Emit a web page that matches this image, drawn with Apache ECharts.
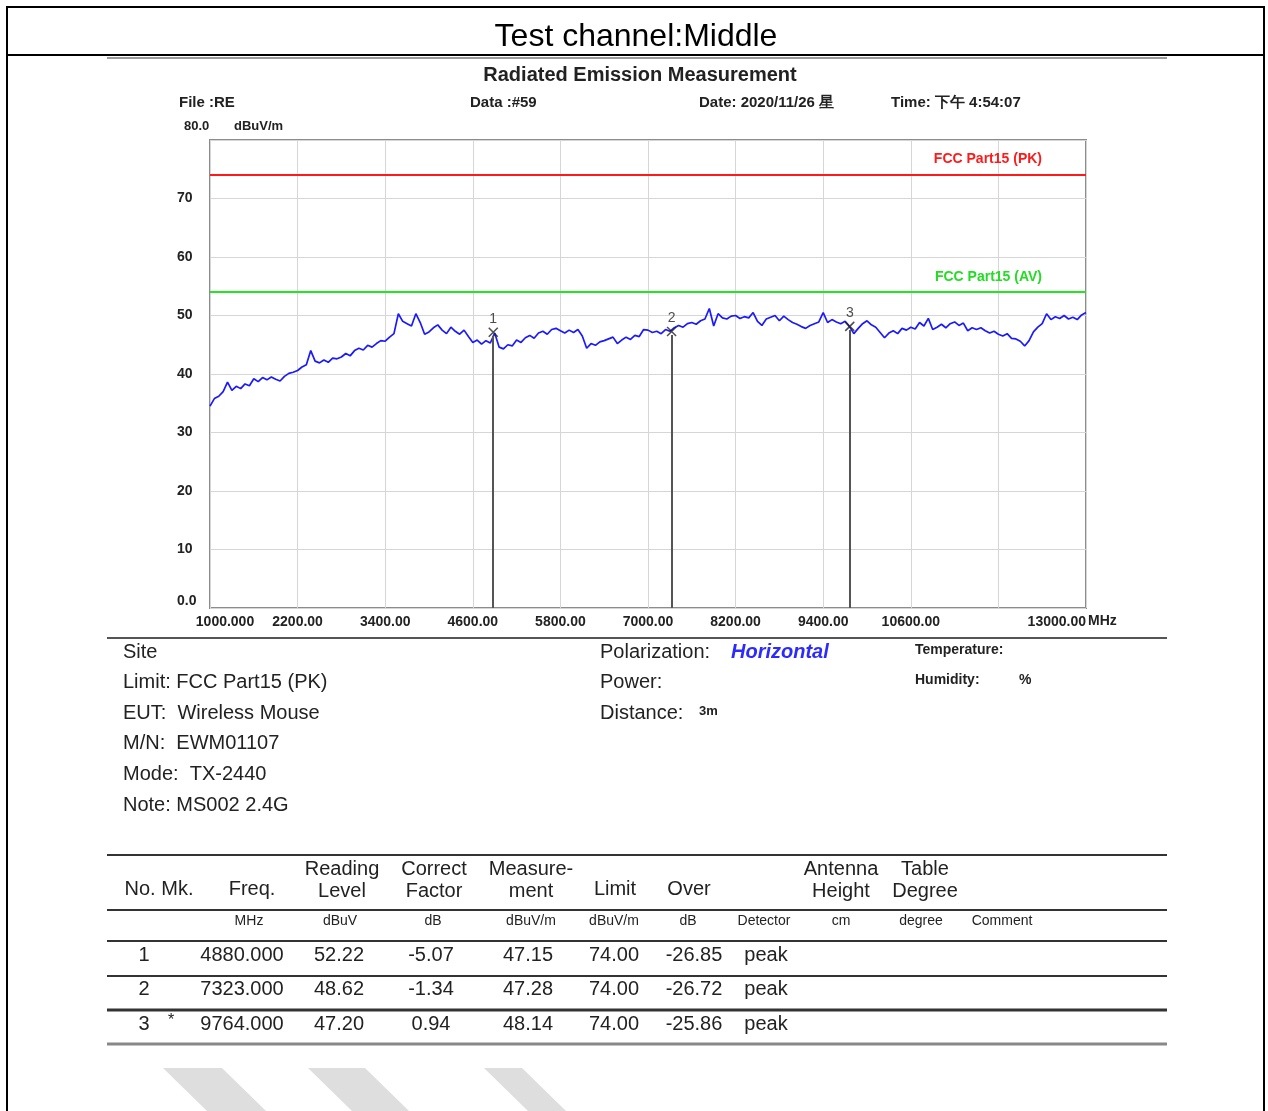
<!DOCTYPE html>
<html>
<head>
<meta charset="utf-8">
<script src="https://cdn.jsdelivr.net/npm/echarts@6/dist/echarts.min.js"></script>
<style>
html, body { margin: 0; padding: 0; background: #fff; }
#main { width: 1268px; height: 1111px; }
</style>
</head>
<body>
<div id="main"></div>
<script>
// sweep settings of the receiver
const sweepStart = 1000;
const sweepStop = 13000;

// blue trace, dBuV/m (201 sweep points)
const traceLevels = [
  34.5, 35.8, 36.2, 37.0, 38.6, 37.2, 37.9, 37.5, 38.3, 38.0,
  39.2, 38.7, 39.4, 39.0, 39.5, 39.1, 38.8, 39.6, 40.1, 40.3,
  40.6, 41.2, 41.6, 44.0, 42.2, 41.9, 42.4, 42.0, 42.7, 42.6,
  42.9, 43.5, 43.1, 44.0, 44.4, 44.1, 44.9, 44.6, 45.2, 45.7,
  45.6, 46.3, 46.9, 50.3, 49.0, 48.6, 48.2, 50.3, 48.8, 46.8,
  47.2, 47.9, 48.4, 47.5, 46.9, 48.0, 47.3, 46.8, 47.5, 46.4,
  45.4, 45.8, 45.1, 45.7, 45.3, 47.0, 44.6, 44.3, 45.0, 44.8,
  45.8, 45.4, 46.2, 46.6, 46.1, 47.0, 47.3, 46.8, 47.6, 47.8,
  47.4, 47.0, 47.5, 47.1, 47.6, 46.5, 44.4, 45.2, 44.9, 45.5,
  45.7, 46.0, 46.3, 45.2, 45.8, 46.3, 45.9, 46.6, 46.4, 47.6,
  47.5, 47.1, 47.3, 46.9, 47.6, 47.3, 47.9, 48.3, 48.0, 48.6,
  48.8, 48.5, 49.1, 49.4, 51.2, 48.2, 50.3, 49.6, 49.4, 49.9,
  50.0, 49.5, 49.8, 49.6, 50.5, 49.0, 48.3, 49.4, 49.7, 50.0,
  49.1, 49.9, 49.3, 48.8, 48.5, 48.1, 47.8, 48.3, 48.6, 48.9,
  50.5, 48.8, 49.3, 48.9, 48.6, 49.0, 48.1, 46.9, 47.8, 48.6,
  49.1, 48.4, 48.0, 47.1, 46.2, 47.0, 47.4, 46.9, 47.8, 47.5,
  48.0, 47.7, 48.8, 48.2, 49.5, 47.6, 48.0, 48.5, 47.9, 48.6,
  48.9, 48.3, 48.7, 47.4, 47.9, 47.6, 47.9, 47.4, 47.0, 47.3,
  46.8, 46.5, 46.9, 46.1, 46.0, 45.6, 44.8, 45.7, 47.2, 48.0,
  48.6, 50.3, 49.3, 49.8, 49.5, 50.0, 49.4, 49.7, 49.3, 50.1,
  50.5
];

const limitPK = 74;
const limitAV = 54;
const limitNames = ['FCC Part15 (PK)', 'FCC Part15 (AV)'];

const xTickLabels = ['1000.000', '2200.00', '3400.00', '4600.00', '5800.00', '7000.00',
  '8200.00', '9400.00', '10600.00', '', '13000.00'];

// marker table
const markerNos = ['1', '2', '3'];
const markerFlags = ['', '', '*'];
const markerFreqs = ['4880.000', '7323.000', '9764.000'];
const readingLevels = ['52.22', '48.62', '47.20'];
const correctFactors = ['-5.07', '-1.34', '0.94'];
const measurements = ['47.15', '47.28', '48.14'];
const limitValues = ['74.00', '74.00', '74.00'];
const overValues = ['-26.85', '-26.72', '-25.86'];
const detectors = ['peak', 'peak', 'peak'];

// header / info texts
const headerTexts = ['File :RE', 'Data :#59', 'Date: 2020/11/26 星', 'Time: 下午 4:54:07'];
const infoLeft = ['Site', 'Limit: FCC Part15 (PK)', 'EUT:  Wireless Mouse', 'M/N:  EWM01107', 'Mode:  TX-2440', 'Note: MS002 2.4G'];
const infoMiddle = ['Polarization:', 'Power:', 'Distance:'];
const tableHeads = [['No. Mk.'], ['Freq.'], ['Reading', 'Level'], ['Correct', 'Factor'], ['Measure-', 'ment'],
  ['Limit'], ['Over'], ['Antenna', 'Height'], ['Table', 'Degree']];
const tableUnits = ['MHz', 'dBuV', 'dB', 'dBuV/m', 'dBuV/m', 'dB', 'Detector', 'cm', 'degree', 'Comment'];

const tracePoints = traceLevels.map((v, i) => [sweepStart + i * (sweepStop - sweepStart) / (traceLevels.length - 1), v]);

const FONT = '"Liberation Sans", Arial, sans-serif';

function txt(text, x, y, opt) {
  opt = opt || {};
  return {
    type: 'text', x: x, y: y, z: 10,
    style: {
      text: text,
      font: (opt.italic ? 'italic ' : '') + (opt.weight || 'normal') + ' ' + (opt.size || 18) + 'px ' + FONT,
      fill: opt.color || '#1a1a1a',
      align: opt.align || 'left', textAlign: opt.align || 'left',
      verticalAlign: 'middle', textVerticalAlign: 'middle',
      lineHeight: opt.lineHeight || 22
    }
  };
}
function hline(y, x1, x2, color, w) {
  return { type: 'line', z: 5, shape: { x1: x1, y1: y, x2: x2, y2: y }, style: { stroke: color, lineWidth: w } };
}

const graphics = [];
// page frame and title
graphics.push({ type: 'rect', z: 1, shape: { x: 7, y: 7, width: 1257, height: 1120 }, style: { fill: 'none', stroke: '#000', lineWidth: 2 } });
graphics.push(hline(55, 7, 1264, '#000', 2));
graphics.push(txt('Test channel:Middle', 636, 37, { size: 32, align: 'center', color: '#000' }));
graphics.push(hline(58, 107, 1167, '#9a9a9a', 2));
graphics.push(txt('Radiated Emission Measurement', 640, 75, { size: 20, weight: 'bold', align: 'center', color: '#222' }));
[179, 470, 699, 891].forEach((x, i) => graphics.push(txt(headerTexts[i], x, 103, { size: 15, weight: 'bold', color: '#222' })));
graphics.push(txt('80.0', 184, 126, { size: 13, weight: 'bold', color: '#222' }));
graphics.push(txt('dBuV/m', 234, 126, { size: 13, weight: 'bold', color: '#222' }));
graphics.push(txt('MHz', 1088, 621, { size: 14, weight: 'bold', color: '#222' }));

// info block
graphics.push(hline(638, 107, 1167, '#555', 2));
infoLeft.forEach((s, i) => graphics.push(txt(s, 123, 652 + i * 30.6, { size: 20, color: '#222' })));
infoMiddle.forEach((s, i) => graphics.push(txt(s, 600, 652 + i * 30.6, { size: 20, color: '#222' })));
graphics.push(txt('Horizontal', 731, 652, { size: 20, weight: 'bold', italic: true, color: '#2b2bff' }));
graphics.push(txt('3m', 699, 711, { size: 13, weight: 'bold', color: '#222' }));
graphics.push(txt('Temperature:', 915, 650, { size: 14, weight: 'bold', color: '#222' }));
graphics.push(txt('Humidity:', 915, 680, { size: 14, weight: 'bold', color: '#222' }));
graphics.push(txt('%', 1019, 680, { size: 14, weight: 'bold', color: '#222' }));

// table
graphics.push(hline(855, 107, 1167, '#333', 2));
graphics.push(hline(910, 107, 1167, '#333', 2));
graphics.push(hline(941, 107, 1167, '#333', 2));
graphics.push(hline(976, 107, 1167, '#333', 2));
graphics.push(hline(1010, 107, 1167, '#333', 3));
graphics.push(hline(1044, 107, 1167, '#888', 3));
const headX = [159, 252, 342, 434, 531, 615, 689, 841, 925];
tableHeads.forEach((h, i) => {
  const y = h.length === 2 ? 880 : 889;
  graphics.push(txt(h.join('\n'), headX[i], y, { size: 20, align: 'center', color: '#222' }));
});
const unitX = [249, 340, 433, 531, 614, 688, 764, 841, 921, 1002];
tableUnits.forEach((u, i) => graphics.push(txt(u, unitX[i], 921, { size: 14, align: 'center', color: '#222' })));
const rowY = [955, 989, 1024];
const colX = [242, 339, 431, 528, 614, 694, 766];
markerNos.forEach((no, r) => {
  graphics.push(txt(no, 144, rowY[r], { size: 20, align: 'center', color: '#222' }));
  graphics.push(txt(markerFlags[r], 171, rowY[r] - 3, { size: 16, align: 'center', color: '#222' }));
  [markerFreqs, readingLevels, correctFactors, measurements, limitValues, overValues, detectors].forEach((col, c) => {
    graphics.push(txt(col[r], colX[c], rowY[r], { size: 20, align: 'center', color: '#222' }));
  });
});

// faded watermark stripes at the bottom
[[[163, 1068], [222, 1068], [266, 1111], [207, 1111]],
 [[308, 1068], [365, 1068], [409, 1111], [352, 1111]],
 [[484, 1068], [522, 1068], [566, 1111], [528, 1111]]].forEach(pts => {
  graphics.push({ type: 'polygon', z: 0, shape: { points: pts }, style: { fill: '#dedede' } });
});

const chart = echarts.init(document.getElementById('main'), null, { renderer: 'canvas' });

const axisFont = { fontFamily: FONT, fontSize: 14, fontWeight: 'bold', color: '#222' };

chart.setOption({
  animation: false,
  backgroundColor: '#fff',
  graphic: graphics,
  grid: {
    left: 210, top: 140, width: 876, height: 468,
    show: true, borderColor: '#8c8c8c', borderWidth: 2, backgroundColor: 'transparent'
  },
  xAxis: {
    type: 'value', min: sweepStart, max: sweepStop, interval: 1200,
    axisLine: { show: false }, axisTick: { show: false },
    splitLine: { show: true, lineStyle: { color: '#d6d6d6', width: 1 } },
    axisLabel: Object.assign({
      margin: 7,
      showMinLabel: true, showMaxLabel: true,
      alignMaxLabel: 'right',
      formatter: v => {
        const s = xTickLabels[Math.round((v - sweepStart) / 1200)] || '';
        return v === sweepStart ? '{first|' + s + '}' : s;
      },
      rich: { first: { padding: [0, 0, 0, 30], fontFamily: FONT, fontSize: 14, fontWeight: 'bold', color: '#222' } }
    }, axisFont)
  },
  yAxis: {
    type: 'value', min: 0, max: 80, interval: 10,
    axisLine: { show: false }, axisTick: { show: false },
    splitLine: { show: true, lineStyle: { color: '#d6d6d6', width: 1 } },
    axisLabel: Object.assign({
      margin: 33, align: 'left',
      verticalAlignMinLabel: 'bottom',
      formatter: v => v === 0 ? '0.0' : (v === 80 ? '' : String(v))
    }, axisFont)
  },
  series: [
    {
      name: limitNames[0], type: 'line', data: [[sweepStart, limitPK], [sweepStop, limitPK]],
      symbol: 'none', lineStyle: { color: '#ff1a1a', width: 2 }, z: 3,
      endLabel: { show: true, formatter: limitNames[0], align: 'right', offset: [-52, -16],
        fontFamily: FONT, fontSize: 14, fontWeight: 'bold', color: '#ff1a1a' }
    },
    {
      name: limitNames[1], type: 'line', data: [[sweepStart, limitAV], [sweepStop, limitAV]],
      symbol: 'none', lineStyle: { color: '#22e622', width: 2 }, z: 3,
      endLabel: { show: true, formatter: limitNames[1], align: 'right', offset: [-52, -15],
        fontFamily: FONT, fontSize: 14, fontWeight: 'bold', color: '#22dd22' }
    },
    {
      name: 'Trace', type: 'line', data: tracePoints, symbol: 'none',
      lineStyle: { color: '#1a1aff', width: 1.7 }, z: 4
    },
    {
      name: 'Markers', type: 'scatter', z: 6,
      data: markerFreqs.map((f, i) => [Number(f), Number(measurements[i])]),
      symbol: 'path://M0,0L10,10M10,0L0,10', symbolSize: 9,
      itemStyle: { color: 'transparent', borderColor: '#222', borderWidth: 1.5 },
      label: {
        show: true, position: 'top', distance: 1,
        formatter: p => markerNos[p.dataIndex],
        fontFamily: FONT, fontSize: 14, color: '#222'
      },
      markLine: {
        silent: true, symbol: 'none', label: { show: false },
        lineStyle: { color: '#555', width: 2, type: 'solid' },
        data: markerFreqs.map((f, i) => [{ coord: [Number(f), 0] }, { coord: [Number(f), Number(measurements[i]) - 0.6] }])
      }
    }
  ]
});
</script>
</body>
</html>
